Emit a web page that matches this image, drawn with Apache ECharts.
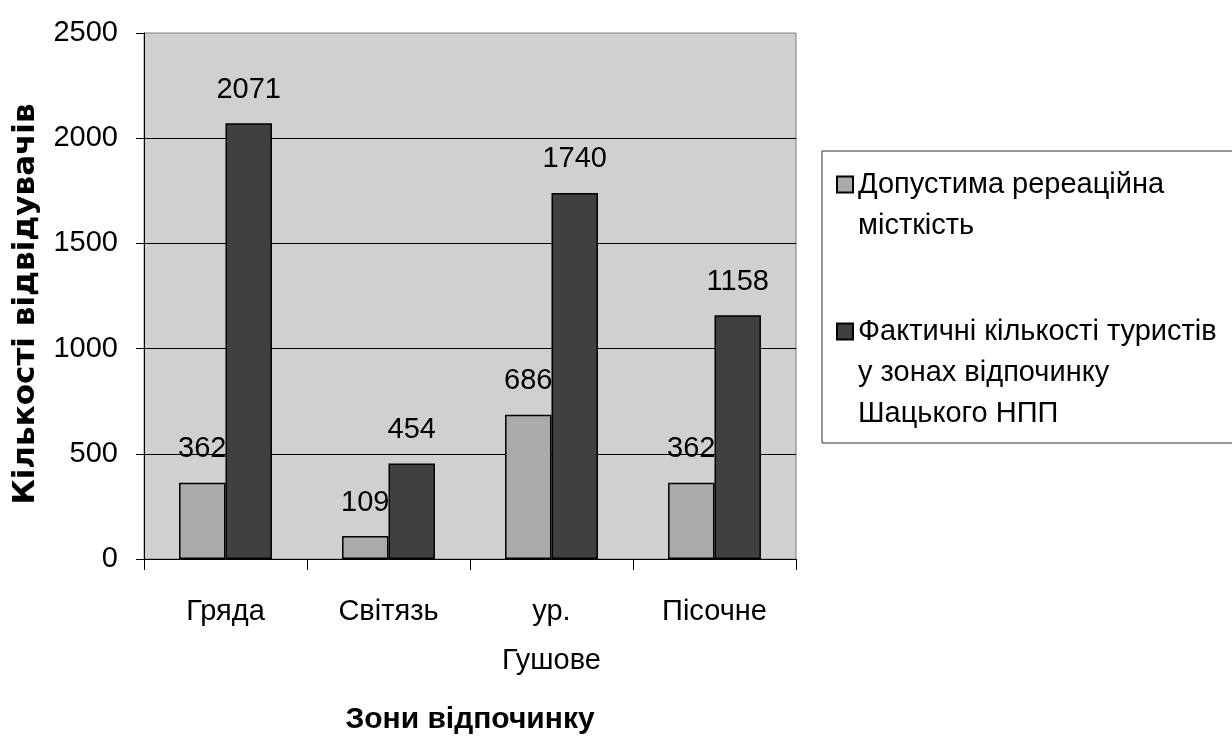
<!DOCTYPE html>
<html>
<head>
<meta charset="utf-8">
<script src="https://cdn.jsdelivr.net/npm/echarts@6/dist/echarts.min.js"></script>
<style>
html,body{margin:0;padding:0;background:#fff;}
#chart{width:1232px;height:740px;}
</style>
</head>
<body>
<div id="chart"></div>
<script>
var categories = ['Гряда', 'Світязь', 'ур.\nГушове', 'Пісочне'];
var seriesNames = ['Допустима ререаційна\nмісткість', 'Фактичні кількості туристів\nу зонах відпочинку\nШацького НПП'];
var capacity = [362, 109, 686, 362];
var actual = [2071, 454, 1740, 1158];
var yTicks = { min: 0, max: 2500, interval: 500 };
var xAxisName = 'Зони відпочинку';
var yAxisName = 'Кількості відвідувачів';

var FONT = "'Liberation Sans', Arial, sans-serif";
var chart = echarts.init(document.getElementById('chart'), null, { renderer: 'canvas' });

var labelStyle = {
  show: true,
  position: 'top',
  distance: 19,
  fontSize: 29,
  fontFamily: FONT,
  color: '#000'
};

function legendCfg(name, top, blankLines) {
  return {
    data: [name],
    orient: 'vertical',
    left: 836,
    top: top,
    padding: 0,
    icon: 'rect',
    itemWidth: 16,
    itemHeight: 16,
    selectedMode: false,
    formatter: function (n) { return new Array(blankLines + 1).join('\n') + n; },
    textStyle: { fontSize: 29, fontFamily: FONT, color: '#000', lineHeight: 41 }
  };
}

var option = {
  backgroundColor: '#fff',
  animation: false,
  textStyle: { fontFamily: FONT },
  grid: {
    left: 144, right: 436, top: 33, bottom: 178,
    show: true,
    backgroundColor: '#d0d0d0',
    borderColor: '#808080',
    borderWidth: 1,
    containLabel: false
  },
  graphic: [{
    type: 'rect',
    shape: { x: 822, y: 151, width: 500, height: 292 },
    style: { fill: 'none', stroke: '#333', lineWidth: 1 },
    silent: true
  }],
  legend: [
    legendCfg(seriesNames[0], 123, 1),
    legendCfg(seriesNames[1], 229, 2)
  ],
  xAxis: {
    type: 'category',
    data: categories,
    boundaryGap: true,
    name: xAxisName,
    nameLocation: 'middle',
    nameGap: 146,
    nameTextStyle: { fontSize: 30, fontWeight: 'bold', fontFamily: FONT, color: '#000' },
    axisLine: { show: true, lineStyle: { color: '#000', width: 1 } },
    axisTick: { show: true, length: 11, interval: 0, alignWithLabel: false, lineStyle: { color: '#000' } },
    axisLabel: { interval: 0, margin: 28, fontSize: 29, lineHeight: 49, fontFamily: FONT, color: '#000' },
    splitLine: { show: false }
  },
  yAxis: {
    type: 'value',
    min: yTicks.min,
    max: yTicks.max,
    interval: yTicks.interval,
    name: yAxisName,
    nameLocation: 'middle',
    nameGap: 103,
    nameRotate: 90,
    nameTextStyle: { fontSize: 31, fontWeight: 'bold', fontFamily: "'DejaVu Sans', sans-serif", color: '#000', padding: [0, 16, 0, 0] },
    axisLine: { show: true, lineStyle: { color: '#000', width: 1 } },
    axisTick: { show: true, length: 8, lineStyle: { color: '#000' } },
    axisLabel: { margin: 26, fontSize: 29, fontFamily: FONT, color: '#000', formatter: function (v) { return String(v); } },
    splitLine: { show: true, showMaxLine: false, lineStyle: { color: '#000', width: 1 } }
  },
  series: [{
    name: seriesNames[0],
    type: 'bar',
    data: capacity,
    z: 2,
    barGap: '0%',
    barCategoryGap: '43%',
    itemStyle: { color: '#aaaaaa', borderColor: '#000', borderWidth: 1.5 },
    label: labelStyle
  }, {
    name: seriesNames[1],
    type: 'bar',
    data: actual,
    z: 3,
    barGap: '0%',
    barCategoryGap: '43%',
    itemStyle: { color: '#404040', borderColor: '#000', borderWidth: 1.5 },
    label: labelStyle
  }]
};
chart.setOption(option);
</script>
</body>
</html>
